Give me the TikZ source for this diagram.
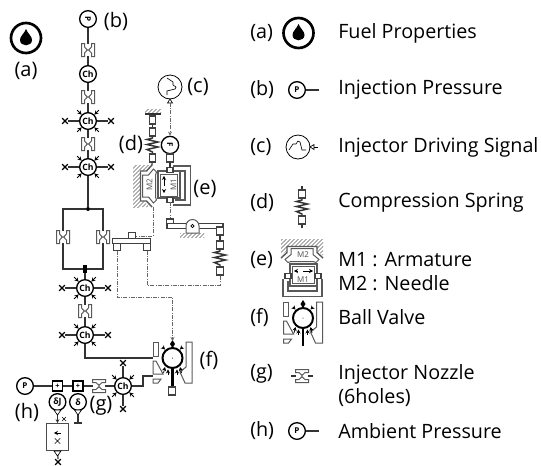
\documentclass[tikz,border=0pt]{standalone}
\usepackage{fontspec}
\setmainfont{Open Sans}
\setsansfont{Open Sans}
\usetikzlibrary{calc, positioning, arrows.meta, patterns, shapes.misc}

\begin{document}
\begin{tikzpicture}[
    x=0.75pt, y=-0.75pt,
    line join=miter,
    txt/.style={font=\fontsize{14.8pt}{18pt}\selectfont, inner sep=0pt, anchor=west, align=left},
    tag/.style={font=\fontsize{15pt}{18pt}\selectfont, inner sep=0pt},
    wire/.style={line width=0.9pt, color=black!80},
    sig/.style={line width=0.6pt, densely dash dot, color=black!60},
    sigarrow/.style={sig, -{Stealth[length=3pt, width=3pt]}},
    chamber/.style={circle, draw, line width=1pt, fill=white, minimum size=12.5pt, inner sep=0pt, font=\sffamily\bfseries\fontsize{6.5pt}{7pt}\selectfont},
    gauge/.style={circle, draw, line width=1pt, fill=white, minimum size=12.5pt, inner sep=0pt, font=\sffamily\bfseries\fontsize{6pt}{7pt}\selectfont},
    sq/.style={rectangle, draw, line width=0.85pt, color=black!75, fill=white, minimum width=4.8pt, minimum height=6pt, inner sep=0pt},
    plusbox/.style={rectangle, draw, line width=1.2pt, fill=white, minimum size=7.5pt, inner sep=0pt, font=\bfseries\fontsize{5.5pt}{5pt}\selectfont},
    xmark/.style={cross out, draw, line width=1pt, minimum size=3.2pt, inner sep=0pt},
    gap/.style={inner sep=0pt, minimum size=9pt},
    small_arrow/.style={line width=0.55pt, -{Stealth[length=3pt, width=3.2pt]}},
    gray_part/.style={line width=0.75pt, color=black!65},
    mass_label/.style={font=\sffamily\fontsize{6pt}{6pt}\selectfont, text=black!70, inner sep=0pt},
    orifice/.pic={
        \node[gap] (-c) {};
        \foreach \s in {-1,1}
            \draw[gray_part, xscale=\s, fill=white] (-6.5,-6.5) -- (-3.5,-6.5) -- (-3.5,-3) -- (-0.6,0) -- (-3.5,3) -- (-3.5,6.5) -- (-6.5,6.5) -- cycle;
    },
    chamberx/.pic={
        \node[chamber] (-c) {Ch};
        \node[xmark] (-e) at (23,0) {};
        \node[xmark] (-w) at (-23,0) {};
        \draw[wire] (-c) -- (-e);
        \draw[wire] (-c) -- (-w);
        \foreach \a in {45,135,225,315}
            \draw[small_arrow] (\a:15.5) -- (\a:9);
    },
    spring/.pic={
        \node[sq] (-t) at (0,-13) {};
        \node[sq] (-b) at (0,13) {};
        \draw[wire, line width=1.1pt] (-t) -- (0,-7) -- (-5.5,-5.5) -- (5.5,-3) -- (-5.5,-0.5) -- (5.5,2) -- (-5.5,4.5) -- (0,7) -- (-b);
    },
    dropicon/.pic={
        \node[circle, draw, line width=2pt, minimum size=22.5pt, inner sep=0pt] (-c) {};
        \fill (0,-9) .. controls (-2,-4) and (-6,-2) .. (-6,2) .. controls (-6,9) and (6,9) .. (6,2) .. controls (6,-2) and (2,-4) .. (0,-9) -- cycle;
    },
    signal/.pic={
        \node[circle, draw, line width=0.6pt, minimum size=18pt, inner sep=0pt] (-c) {};
        \draw[line width=0.5pt] (-9,3) -- (-5,-3) -- (-2,-3) -- (0,-6) -- (2,-5) -- (4,3) -- (8,3);
        \draw[line width=0.5pt, fill=white] (12,0) -- (16,-2.5) -- (16,2.5) -- cycle;
        \coordinate (-o) at (16,0);
    },
    actuator/.pic={
        % hatched wall and the two masses
        \fill[pattern=north east lines, pattern color=black!60] (-28.5,-21) rectangle (-21,21);
        \fill[pattern=north east lines, pattern color=black!60] (-21,-21) -- (-12,-21) -- (-17,-15) -- (-21,-15) -- cycle;
        \fill[pattern=north east lines, pattern color=black!60] (-21,21) -- (-12,21) -- (-17,15) -- (-21,15) -- cycle;
        \draw[gray_part, line width=1.1pt] (-21,15) -- (-21,-15) -- (-15,-15) -- (-9.5,-21);
        \draw[gray_part, line width=1.1pt] (-21,15) -- (-15,15) -- (-9.5,21);
        \draw[gray_part, fill=white] (-19,-11) -- (-13,-11) -- (-8,-17) -- (-5,-14) -- (-6,-11) -- (-6,11) -- (-5,14) -- (-8,17) -- (-13,11) -- (-19,11) -- cycle;
        \draw[gray_part, line width=1pt, fill=white] (-3.5,-15) rectangle (18.5,12);
        \draw[gray_part, line width=0.6pt] (-1.5,-12) rectangle (15.5,10);
        \draw[gray_part, line width=1.2pt] (11.5,-20) -- (29,-20) -- (29,19) -- (11.5,19);
        \draw[gray_part, line width=0.8pt] (13,-15) -- (23.5,-15) -- (23.5,14) -- (13,14);
        \node[sq, minimum width=4.5pt, minimum height=3.5pt] (-m) at (8.5,-16) {};
        \node[sq, minimum width=4.5pt, minimum height=3.5pt] (-n) at (8.5,14) {};
        \coordinate (-s) at (-9.5,-21);
        \coordinate (-a) at (8.5,-18);
        \coordinate (-u) at (-8.5,21);
        \coordinate (-v) at (8.5,16);
    },
    valve/.pic={
        \node[circle, draw, line width=1.5pt, fill=white, minimum size=15pt, inner sep=0pt] (-c) {};
        \fill (0,0) circle (0.5);
        \draw[gray_part, fill=white] (-19.5,-16) rectangle (-14.5,-2);
        \draw[gray_part] (-19.5,3) -- (-19.5,16) -- (-9.5,16) -- (-16.5,3) -- cycle;
        \draw[gray_part] (-19.5,21) -- (-11.5,21) -- (-14.5,25) -- (-19.5,25) -- cycle;
        \draw[gray_part] (13.5,-16) -- (19.5,-16) -- (19.5,25) -- (12.5,25) -- (7.5,14) -- (13.5,9) -- cycle;
        \draw[line width=1.6pt] (0,10) -- (0,28);
        \fill (0,-10) -- (-2.5,-14) -- (0,-18) -- (2.5,-14) -- cycle;
        \foreach \xa/\ya/\xb/\yb in {-10/-11/-7.5/-8.5, 10/-11/7.5/-8.5, -4.5/17/-4.5/11.5, 4.5/17/4.5/11.5, -9/15/-7.5/9, 9/15/7.5/9}
            \draw[small_arrow] (\xa,\ya) -- (\xb,\yb);
        \coordinate (-t) at (0,-17);
        \coordinate (-w) at (-19.5,0);
        \coordinate (-i) at (-19.5,18);
        \coordinate (-s) at (0,28);
    }
]

% main circuit
\pic (drop) at (26,38) {dropicon};
\node[gauge] (pinj) at (88,19) {\rotatebox{-90}{P}};
\pic (or1) at (88,50) {orifice};
\node[chamber] (ch1) at (88,74) {Ch};
\pic (or2) at (88,97) {orifice};
\pic (ch2) at (88,121) {chamberx};
\pic (or3) at (88,144) {orifice};
\pic (ch3) at (88,167) {chamberx};
\node[circle, fill, inner sep=0pt, minimum size=3pt] (split) at (88,209) {};
\pic (or4) at (63,237) {orifice};
\pic (or5) at (103,237) {orifice};
\node[rectangle, fill, inner sep=0pt, minimum width=2.4pt, minimum height=6pt] (merge) at (85,269) {};
\pic (ch4) at (85,288) {chamberx};
\pic (or6) at (85,311) {orifice};
\pic (ch5) at (85,335) {chamberx};
\pic (bv) at (172.5,358) {valve};
\node[sq] (bvs) at (172,391) {};

\draw[wire] (pinj) -- (or1-c);
\draw[wire] (or1-c) -- (ch1);
\draw[wire] (ch1) -- (or2-c);
\draw[wire] (or2-c) -- (ch2-c);
\draw[wire] (ch2-c) -- (or3-c);
\draw[wire] (or3-c) -- (ch3-c);
\draw[wire] (ch3-c) -- (split);
\draw[wire] (split) -| (or4-c);
\draw[wire] (split) -| (or5-c);
\draw[wire] (or4-c) |- (merge);
\draw[wire] (or5-c) |- (merge);
\draw[wire] (merge) -- (ch4-c);
\draw[wire] (ch4-c) -- (or6-c);
\draw[wire] (or6-c) -- (ch5-c);
\draw[wire] (ch5-c) |- (bv-w);
\draw[wire] (bv-s) -- (bvs);

% return line
\node[gauge] (pamb) at (25,386) {P};
\node[plusbox] (bx1) at (57.5,386) {+};
\node[plusbox] (bx2) at (78,386) {+};
\pic[rotate=90] (or7) at (99,386) {orifice};
\pic[rotate=90] (ch6) at (123,386) {chamberx};
\coordinate (kink) at (143,376);
\draw[wire] (pamb) -- (bx1);
\draw[wire] (bx1) -- (bx2);
\draw[wire] (bx2) -- (or7-c);
\draw[wire] (or7-c) -- (ch6-c);
\draw[wire] (ch6-c) -| (kink) -- (bv-i |- kink);

\node[gauge, font=\bfseries\fontsize{6.5pt}{7pt}\selectfont] (dl1) at (57.5,402) {δJ};
\node[gauge, font=\bfseries\fontsize{6.5pt}{7pt}\selectfont] (dl2) at (78,402) {δ};
\coordinate (gnd) at (78,423);
\node[rectangle, draw, line width=0.8pt, color=black!70, minimum width=17pt, minimum height=20pt, inner sep=0pt] (mixer) at (57.5,437) {};
\node[xmark, line width=0.5pt, minimum size=2.5pt] (xm1) at (64,419) {};
\node[xmark] (xm2) at (58,462) {};
\draw[wire, -{Stealth[length=3pt, width=3pt]}] (dl1) -- (mixer);
\draw[wire] (dl2) -- (gnd);
\draw[wire] (74,423) -- (82,423);
\draw[wire] (mixer) -- (xm2);
\draw[fill=white, line width=0.5pt] (54,410) -- (61,410) -- (57.5,415) -- cycle;
\draw[fill=white, line width=0.5pt] (74.5,410) -- (81.5,410) -- (78,415) -- cycle;
\draw[fill=white, line width=0.5pt] (54,451) -- (61,451) -- (57.5,456) -- cycle;
\draw[small_arrow] (61,433) -- (54,433);
\node[xmark, line width=0.5pt, minimum size=3.5pt] (xm3) at (57.5,441) {};

% driver and actuator
\pic[rotate=-90] (sg) at (170,87) {signal};
\node[gauge, minimum size=13pt] (force) at (170,145) {\rotatebox{-90}{F}};
\node[sq] (fs) at (170,158) {};
\pic (act) at (161.5,186) {actuator};
\draw[sigarrow] (sg-o) -- (force);
\draw[wire] (force) -- (fs);
\draw[wire] (fs) -- (act-a);

\coordinate (wal) at (152.5,114);
\fill[pattern=north east lines, pattern color=black!60] (145,109) rectangle (161,114);
\draw[wire] (145,114) -- (wal) -- (161,114);
\node[sq] (anc) at (152.5,120) {};
\pic (spr1) at (152.5,145) {spring};
\draw[wire] (anc) -- (spr1-t);
\draw[wire] (spr1-b) -- (act-s);

% lever arms
\node[sq, minimum height=5pt] (arm0) at (132,236) {};
\node[rectangle, draw, line width=0.8pt, color=black!75, fill=white, minimum width=28pt, minimum height=3.5pt, inner sep=0pt] (arm1) at (131.5,241) {};
\node[sq, minimum height=5pt] (arm2) at (117,247) {};
\node[sq, minimum height=5pt] (arm3) at (147,247) {};
\node[sq, minimum height=6pt] (arm4) at (170,223) {};
\node[rectangle, draw, line width=0.8pt, color=black!75, fill=white, minimum width=42pt, minimum height=3.5pt, inner sep=0pt] (arm5) at (195,226) {};
\node[sq, minimum height=6pt] (arm6) at (220,231) {};
\draw[gray_part, fill=white] (186,233) -- (186,226) arc (180:360:6.5) -- (199,233) -- cycle;
\node[circle, draw, line width=0.5pt, minimum size=2.5pt, inner sep=0pt] (pivot) at (192.5,226) {};
\fill[pattern=north east lines, pattern color=black!60] (180,233) rectangle (204,237);
\pic (spr2) at (220,258) {spring};
\draw[wire] (arm6) -- (spr2-t);

\draw[sig] (act-u) |- (arm0);
\draw[sig] (act-v) -- (arm4);
\draw[sig] (arm3) |- (220,285) -- (spr2-b);
\draw[sigarrow] (arm2) |- (172.5,297) -- (bv-t);

% labels on the circuit
\node[tag] (la) at (26,71) {(a)};
\node[tag] (lb) at (116,21) {(b)};
\node[tag] (lc) at (198,87) {(c)};
\node[tag] (ld) at (131,144) {(d)};
\node[tag] (le) at (205,189) {(e)};
\node[tag] (lf) at (209,360) {(f)};
\node[tag] (lg) at (101,406) {(g)};
\node[tag] (lh) at (27,412) {(h)};

% legend
\node[txt] (ta) at (250,33) {(a)};
\node[txt] (tb) at (250,90) {(b)};
\node[txt] (tc) at (250,147) {(c)};
\node[txt] (td) at (250,203) {(d)};
\node[txt] (te) at (250,260) {(e)};
\node[txt] (tf) at (250,317) {(f)};
\node[txt] (tg) at (250,374) {(g)};
\node[txt] (th) at (250,431) {(h)};

\node[txt] (na) at (338,33) {Fuel Properties};
\node[txt] (nb) at (338,90) {Injection Pressure};
\node[txt] (nc) at (338,147) {Injector Driving Signal};
\node[txt] (nd) at (338,203) {Compression Spring};
\node[txt] (ne) at (338,272) {M1 : Armature\\M2 : Needle};
\node[txt] (nf) at (338,317) {Ball Valve};
\node[txt] (ng) at (338,386) {Injector Nozzle\\(6holes)};
\node[txt] (nh) at (338,431) {Ambient Pressure};

\pic (idrop) at (298.5,33) {dropicon};
\node[gauge] (ipb) at (297,90) {P};
\coordinate (ipbe) at (319,90);
\draw[wire] (ipb) -- (ipbe);
\pic (isg) at (298,147) {signal};
\coordinate (isge) at (318,147);
\draw[line width=0.5pt] (isg-o) -- (isge);
\pic (ispr) at (302,207) {spring};
\coordinate (isprt) at (302,186);
\coordinate (isprb) at (302,228);
\draw[wire] (ispr-t) -- (isprt);
\draw[wire] (ispr-b) -- (isprb);
\pic[rotate=-90] (iact) at (302,267.5) {actuator};
\pic (ivl) at (303,318) {valve};
\pic[rotate=90] (ior) at (302,376) {orifice};
\coordinate (iorw) at (291,376);
\coordinate (iore) at (313,376);
\draw[wire] (ior-c.west) -- (iorw);
\draw[wire] (ior-c.east) -- (iore);
\node[gauge] (iph) at (297,431) {P};
\coordinate (iphe) at (319,431);
\draw[wire] (iph) -- (iphe);

% masses carry their names and the travel arrows
\node[mass_label, rotate=90] (m2a) at (149.5,185) {M2};
\node[mass_label, rotate=90] (m1a) at (173.5,185) {M1};
\node[mass_label] (m2b) at (303,255) {M2};
\node[mass_label] (m1b) at (303,280) {M1};
\draw[small_arrow] (164,186) -- (164,176);
\draw[small_arrow] (164,190) -- (164,193);
\draw[small_arrow] (303,271) -- (313,271);
\draw[small_arrow] (298,271) -- (294,271);

\useasboundingbox (0,0) rectangle (541,464);
\end{tikzpicture}
\end{document}
